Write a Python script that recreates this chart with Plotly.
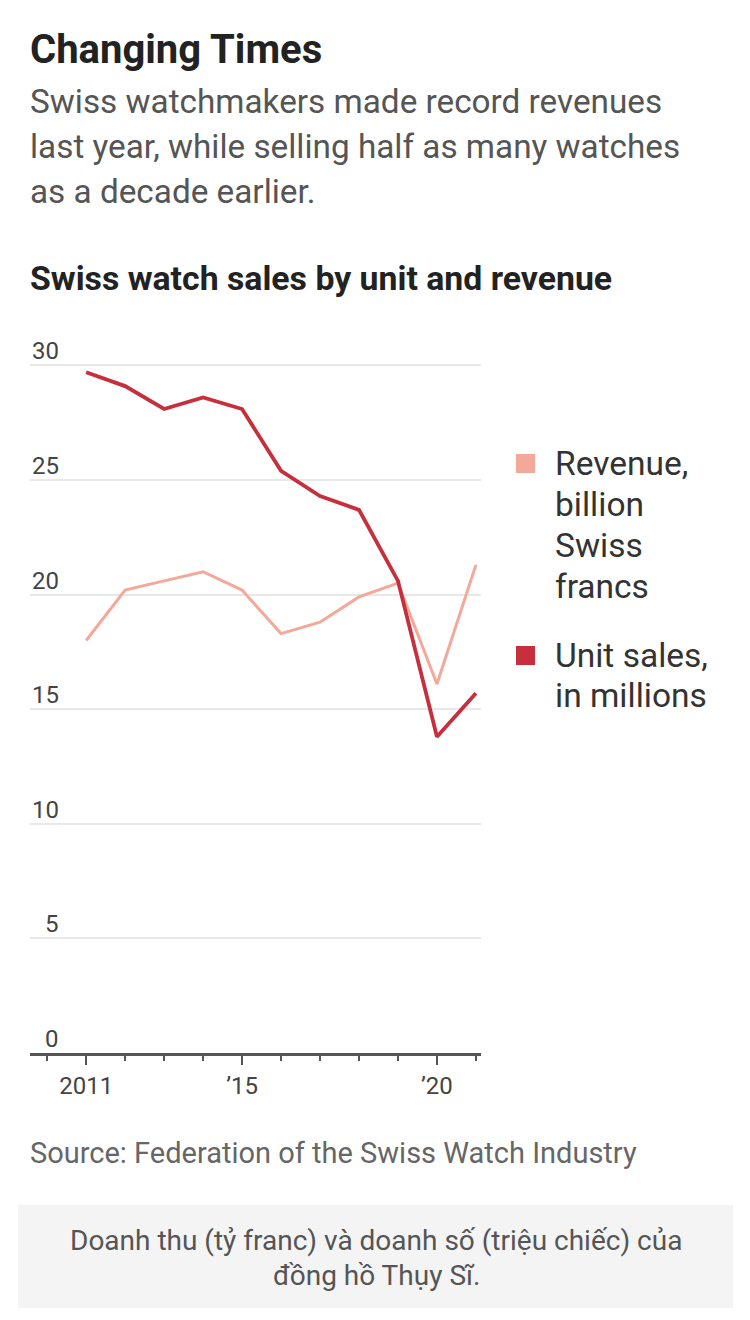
import plotly.graph_objects as go

years = list(range(2011, 2022))
revenue = [18.0, 20.2, 20.6, 21.0, 20.2, 18.3, 18.8, 19.9, 20.5, 16.1, 21.3]
units = [29.7, 29.1, 28.1, 28.6, 28.1, 25.4, 24.3, 23.7, 20.6, 13.8, 15.7]
y_ticks = [0, 5, 10, 15, 20, 25, 30]
x_tickvals = [2011, 2015, 2020]
x_ticktext = ["2011", "\u201915", "\u201920"]

REV_COLOR = "#f4a899"
UNIT_COLOR = "#c62f3b"
FONT = "Roboto"

W, H = 750, 1320
L, R, T, B = 30, 481, 354, 1053


def px_x(px):
    return (px - L) / (R - L)


def px_y(py):
    return (B - py) / (B - T)


fig = go.Figure()
fig.add_trace(go.Scatter(x=years, y=revenue, mode="lines", name="Revenue",
                         line=dict(color=REV_COLOR, width=3), showlegend=False))
fig.add_trace(go.Scatter(x=years, y=units, mode="lines", name="Unit sales",
                         line=dict(color=UNIT_COLOR, width=3.8), showlegend=False))

annotations = []


def text(px, py, s, size, color, bold=False, anchor="left", family=FONT):
    annotations.append(dict(
        xref="paper", yref="paper", x=px_x(px), y=px_y(py), text=s,
        showarrow=False, xanchor=anchor, yanchor="middle",
        font=dict(family=family, size=size, color=color,
                  weight=700 if bold else 400),
    ))


text(28, 50, "Changing Times", 40, "#222222", bold=True)
for i, line in enumerate(["Swiss watchmakers made record revenues",
                          "last year, while selling half as many watches",
                          "as a decade earlier."]):
    text(28, 101 + 45 * i, line, 33.3, "#555555")
text(28, 278, "Swiss watch sales by unit and revenue", 33.8, "#222222", bold=True)

# y tick labels above grid lines
for v in y_ticks:
    annotations.append(dict(
        xref="paper", yref="y", x=px_x(61), y=v, text=str(v), showarrow=False,
        xanchor="right", yanchor="bottom", yshift=-2,
        font=dict(family=FONT, size=24, color="#444444"),
    ))

# legend
for i, line in enumerate(["Revenue,", "billion", "Swiss", "francs"]):
    text(553, 463 + 41 * i, line, 33.5, "#333333")
for i, line in enumerate(["Unit sales,", "in millions"]):
    text(553, 655 + 40 * i, line, 33.5, "#333333")

shapes = [
    dict(type="rect", xref="paper", yref="paper", x0=px_x(516), x1=px_x(535),
         y0=px_y(454), y1=px_y(473), fillcolor=REV_COLOR, line=dict(width=0)),
    dict(type="rect", xref="paper", yref="paper", x0=px_x(516), x1=px_x(535),
         y0=px_y(646), y1=px_y(665), fillcolor=UNIT_COLOR, line=dict(width=0)),
    dict(type="rect", xref="paper", yref="paper", x0=px_x(18), x1=px_x(733),
         y0=px_y(1205), y1=px_y(1308), fillcolor="#f4f4f4", line=dict(width=0),
         layer="below"),
]

text(28, 1153, "Source: Federation of the Swiss Watch Industry", 29, "#666666")
text(376, 1240, "Doanh thu (tỷ franc) và doanh số (triệu chiếc) của", 28,
     "#555555", anchor="center")
text(376, 1275, "đồng hồ Thụy Sĩ.", 28, "#555555", anchor="center")

fig.update_layout(
    width=W, height=H,
    margin=dict(l=L, r=W - R, t=T, b=H - B, pad=0),
    paper_bgcolor="white", plot_bgcolor="white",
    annotations=annotations, shapes=shapes,
    font=dict(family=FONT),
    xaxis=dict(
        range=[2009.56, 2021.13], tickmode="array", tickvals=x_tickvals,
        ticktext=x_ticktext, ticks="outside", ticklen=9, tickwidth=2,
        tickcolor="#555555", showgrid=False, showline=True, linecolor="#555555",
        linewidth=3, zeroline=False,
        tickfont=dict(family=FONT, size=24, color="#444444"),
        minor=dict(dtick=1, tick0=2011, ticks="outside", ticklen=5, tickwidth=2,
                   tickcolor="#555555", showgrid=False),
        fixedrange=True,
    ),
    yaxis=dict(
        range=[0, 30.5], tickmode="array", tickvals=y_ticks, showticklabels=False,
        showgrid=True, gridcolor="#e8e8e8", gridwidth=2, zeroline=False,
        showline=False, fixedrange=True,
    ),
)

fig.write_html("out.html")
